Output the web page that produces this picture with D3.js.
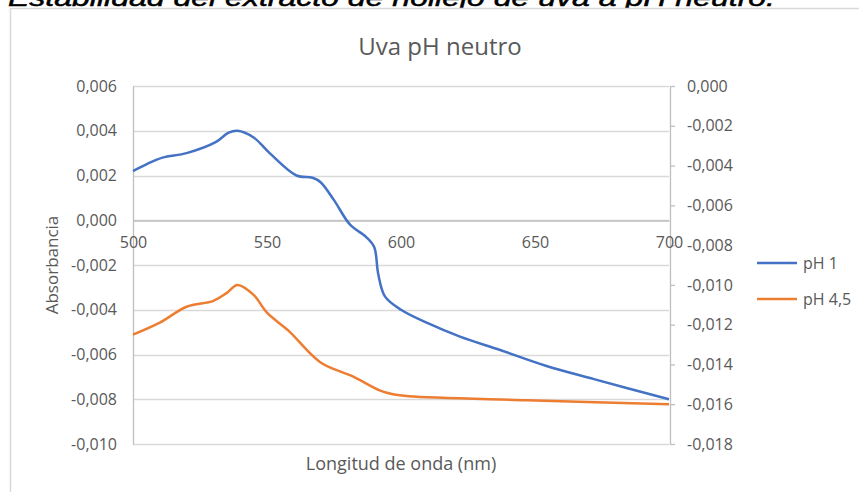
<!DOCTYPE html>
<html>
<head>
<meta charset="utf-8">
<script src="https://cdn.jsdelivr.net/npm/d3@7"></script>
<style>
  html, body { margin: 0; padding: 0; background: #fff; overflow: hidden; }
  svg { display: block; }
</style>
</head>
<body>
<svg id="chart" width="859" height="492"></svg>
<script>
// data
var nmPH1 = [500, 505, 511, 520, 531, 535.5, 539, 545, 551, 561, 567, 570, 575, 581, 587, 590, 591.5, 594, 600, 610, 622, 637, 654, 672, 700];
var absPH1 = [0.0022, 0.0025, 0.0028, 0.0030, 0.0035, 0.0039, 0.0040, 0.0037, 0.0030, 0.0020, 0.0019, 0.0017, 0.0009, -0.0002, -0.00075, -0.0012, -0.0024, -0.0034, -0.0040, -0.0046, -0.0052, -0.0058, -0.0065, -0.0071, -0.0080];

var nmPH45 = [500, 510, 520, 530, 535, 539, 545, 550, 558, 570, 582, 592, 597, 603, 647, 700];
var absPH45 = [-0.0125, -0.0119, -0.0111, -0.0108, -0.0104, -0.0100, -0.0105, -0.0114, -0.0123, -0.0139, -0.0146, -0.0153, -0.0155, -0.0156, -0.0158, -0.0160];

var xTicks = [500, 550, 600, 650, 700];
var leftTicks = [-0.010, -0.008, -0.006, -0.004, -0.002, 0, 0.002, 0.004, 0.006];
var rightTicks = [-0.018, -0.016, -0.014, -0.012, -0.010, -0.008, -0.006, -0.004, -0.002, 0];

var seriesNames = ["pH 1", "pH 4,5"];
var colors = ["#4472C4", "#ED7D31"];

var font = "'Open Sans', sans-serif";
var textColor = "#595959";

var svg = d3.select("#chart");

// comma decimals
var locale = d3.formatLocale({ decimal: ",", thousands: ".", grouping: [3], currency: ["", ""], minus: "-" });
var fmt = locale.format(".3f");

// heading of the document, cut off at the top
svg.append("text")
  .attr("x", 8)
  .attr("y", 6)
  .attr("font-family", "'Liberation Sans', Arial, sans-serif")
  .attr("font-style", "italic")
  .attr("font-size", 24)
  .attr("fill", "#000")
  .attr("stroke", "#000")
  .attr("stroke-width", 0.5)
  .attr("textLength", 767)
  .attr("lengthAdjust", "spacingAndGlyphs")
  .text("Estabilidad del extracto de hollejo de uva a pH neutro.");

// chart area border
svg.append("rect")
  .attr("x", 10.5).attr("y", 8.5)
  .attr("width", 900).attr("height", 520)
  .attr("fill", "#fff")
  .attr("stroke", "#d9d9d9")
  .attr("stroke-width", 1.5);

var x = d3.scaleLinear().domain([500, 700]).range([133, 669]);
var yL = d3.scaleLinear().domain([-0.010, 0.006]).range([444, 86]);
var yR = d3.scaleLinear().domain([-0.018, 0]).range([444, 86]);

// gridlines
svg.append("g")
  .selectAll("line")
  .data(leftTicks)
  .enter().append("line")
  .attr("x1", 133).attr("x2", 669)
  .attr("y1", function(d) { return Math.round(yL(d)) + 0.5; })
  .attr("y2", function(d) { return Math.round(yL(d)) + 0.5; })
  .attr("stroke", "#d9d9d9")
  .attr("stroke-width", 1.3);

// left axis
var gL = svg.append("g")
  .attr("transform", "translate(133,0)")
  .call(d3.axisLeft(yL).tickValues(leftTicks).tickSize(0).tickPadding(16).tickFormat(fmt));
gL.select(".domain").attr("stroke", "#bfbfbf").attr("stroke-width", 1.3);

// right axis
var gR = svg.append("g")
  .attr("transform", "translate(670,0)")
  .call(d3.axisRight(yR).tickValues(rightTicks).tickSize(5).tickPadding(12).tickFormat(fmt).tickSizeOuter(0));
gR.select(".domain").attr("stroke", "#bfbfbf").attr("stroke-width", 1.3);
gR.selectAll(".tick line").attr("stroke", "#bfbfbf").attr("stroke-width", 1.3);

// x axis, crossing at zero
var gX = svg.append("g")
  .attr("transform", "translate(0," + (Math.round(yL(0)) + 0.5) + ")")
  .call(d3.axisBottom(x).tickValues(xTicks).tickSize(0).tickPadding(16).tickFormat(d3.format("d")));
gX.select(".domain").attr("stroke", "#bfbfbf").attr("stroke-width", 1.3);

svg.selectAll(".tick text")
  .attr("font-family", font)
  .attr("font-size", 16)
  .attr("fill", textColor);

// lines
var line1 = d3.line()
  .x(function(d) { return x(d[0]); })
  .y(function(d) { return yL(d[1]); })
  .curve(d3.curveCatmullRom.alpha(0.5));

var line2 = d3.line()
  .x(function(d) { return x(d[0]); })
  .y(function(d) { return yR(d[1]); })
  .curve(d3.curveCatmullRom.alpha(0.5));

svg.append("path")
  .datum(d3.zip(nmPH1, absPH1))
  .attr("d", line1)
  .attr("fill", "none")
  .attr("stroke", colors[0])
  .attr("stroke-width", 2.5)
  .attr("stroke-linejoin", "round");

svg.append("path")
  .datum(d3.zip(nmPH45, absPH45))
  .attr("d", line2)
  .attr("fill", "none")
  .attr("stroke", colors[1])
  .attr("stroke-width", 2.5)
  .attr("stroke-linejoin", "round");

// titles
svg.append("text")
  .attr("x", 440).attr("y", 55)
  .attr("text-anchor", "middle")
  .attr("font-family", font)
  .attr("font-size", 24)
  .attr("fill", textColor)
  .text("Uva pH neutro");

svg.append("text")
  .attr("x", 401).attr("y", 470)
  .attr("text-anchor", "middle")
  .attr("font-family", font)
  .attr("font-size", 18)
  .attr("fill", textColor)
  .text("Longitud de onda (nm)");

svg.append("text")
  .attr("transform", "translate(58,265) rotate(-90)")
  .attr("text-anchor", "middle")
  .attr("font-family", font)
  .attr("font-size", 17)
  .attr("fill", textColor)
  .text("Absorbancia");

// legend
var legend = svg.append("g")
  .selectAll("g")
  .data(seriesNames)
  .enter().append("g")
  .attr("transform", function(d, i) { return "translate(757," + (263 + i * 36) + ")"; });

legend.append("line")
  .attr("x1", 0).attr("x2", 40)
  .attr("stroke", function(d, i) { return colors[i]; })
  .attr("stroke-width", 2.5);

legend.append("text")
  .attr("x", 46)
  .attr("dy", "0.35em")
  .attr("font-family", font)
  .attr("font-size", 16)
  .attr("fill", textColor)
  .text(function(d) { return d; });
</script>
</body>
</html>
